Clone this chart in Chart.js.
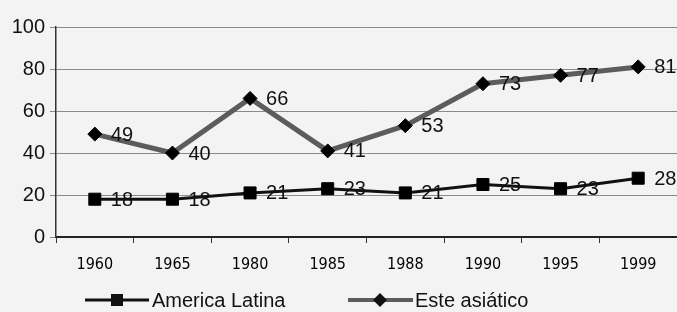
<!DOCTYPE html>
<html>
<head>
<meta charset="utf-8">
<script src="https://cdn.jsdelivr.net/npm/chart.js@4/dist/chart.umd.min.js"></script>
<style>
html,body{margin:0;padding:0;background:#f3f3f3;}
#wrap{width:677px;height:312px;position:relative;}
</style>
</head>
<body>
<div id="wrap"><canvas id="c" width="677" height="312"></canvas></div>
<script>
const categories = ['1960','1965','1980','1985','1988','1990','1995','1999'];
const americaLatina = [18,18,21,23,21,25,23,28];
const esteAsiatico = [49,40,66,41,53,73,77,81];
const yTicks = [0,20,40,60,80,100];
const seriesNames = ['America Latina','Este asiático'];

const FONT = '"Liberation Sans", Arial, sans-serif';

const labelPlugin = {
  id: 'labels',
  afterDatasetsDraw(chart) {
    const ctx = chart.ctx;
    ctx.save();
    ctx.font = '20px ' + FONT;
    ctx.fillStyle = '#111';
    ctx.textAlign = 'left';
    ctx.textBaseline = 'middle';
    chart.data.datasets.forEach((ds, i) => {
      const meta = chart.getDatasetMeta(i);
      meta.data.forEach((pt, j) => {
        ctx.fillText(String(ds.data[j]), pt.x + 16, pt.y + 1);
      });
    });
    ctx.restore();
  },
  afterDraw(chart) {
    const ctx = chart.ctx;
    const y = 300;
    ctx.save();
    ctx.strokeStyle = '#111'; ctx.lineWidth = 3;
    ctx.beginPath(); ctx.moveTo(85, y); ctx.lineTo(149, y); ctx.stroke();
    ctx.fillStyle = '#111';
    ctx.fillRect(111, y - 6, 12, 12);
    ctx.font = '20px ' + FONT;
    ctx.textBaseline = 'middle';
    ctx.fillText(seriesNames[0], 152, y + 1);
    ctx.strokeStyle = '#5c5c5c'; ctx.lineWidth = 4;
    ctx.beginPath(); ctx.moveTo(348, y); ctx.lineTo(413, y); ctx.stroke();
    ctx.beginPath();
    ctx.moveTo(380, y - 7); ctx.lineTo(387, y); ctx.lineTo(380, y + 7); ctx.lineTo(373, y); ctx.closePath();
    ctx.fill();
    ctx.fillText(seriesNames[1], 415, y + 1);
    ctx.restore();
  }
};

new Chart(document.getElementById('c'), {
  type: 'line',
  data: {
    labels: categories,
    datasets: [
      {
        label: seriesNames[1],
        data: esteAsiatico,
        borderColor: '#5c5c5c',
        borderWidth: 5,
        pointStyle: 'rectRot',
        pointRadius: 7,
        pointBackgroundColor: '#000',
        pointBorderColor: '#000',
        pointBorderWidth: 1,
        tension: 0
      },
      {
        label: seriesNames[0],
        data: americaLatina,
        borderColor: '#111',
        borderWidth: 3,
        pointStyle: 'rect',
        pointRadius: 8.5,
        pointBackgroundColor: '#000',
        pointBorderColor: '#000',
        pointBorderWidth: 1,
        tension: 0
      }
    ]
  },
  options: {
    responsive: false,
    animation: false,
    layout: { autoPadding: false, padding: { top: 27, right: 0, left: 0, bottom: 0 } },
    plugins: { legend: { display: false }, tooltip: { enabled: false } },
    scales: {
      x: {
        offset: true,
        grid: { offset: true, drawOnChartArea: false, drawTicks: true, tickLength: 6, color: '#333', lineWidth: 1 },
        border: { display: true, color: '#222', width: 2 },
        ticks: { color: '#000', font: { family: '"DejaVu Sans Condensed", "Liberation Sans", Arial', size: 16 }, padding: 12, maxRotation: 0, autoSkip: false },
        afterFit(scale) { scale.height = 75; }
      },
      y: {
        min: 0, max: 100,
        afterBuildTicks(scale) { scale.ticks = yTicks.map(v => ({ value: v })); },
        grid: { color: '#8a8a8a', lineWidth: 1, drawTicks: true, tickLength: 6 },
        border: { display: true, color: '#333', width: 1.5 },
        ticks: { color: '#111', font: { family: FONT, size: 20 }, padding: 5 },
        afterFit(scale) { scale.width = 56; }
      }
    }
  },
  plugins: [labelPlugin]
});
</script>
</body>
</html>
